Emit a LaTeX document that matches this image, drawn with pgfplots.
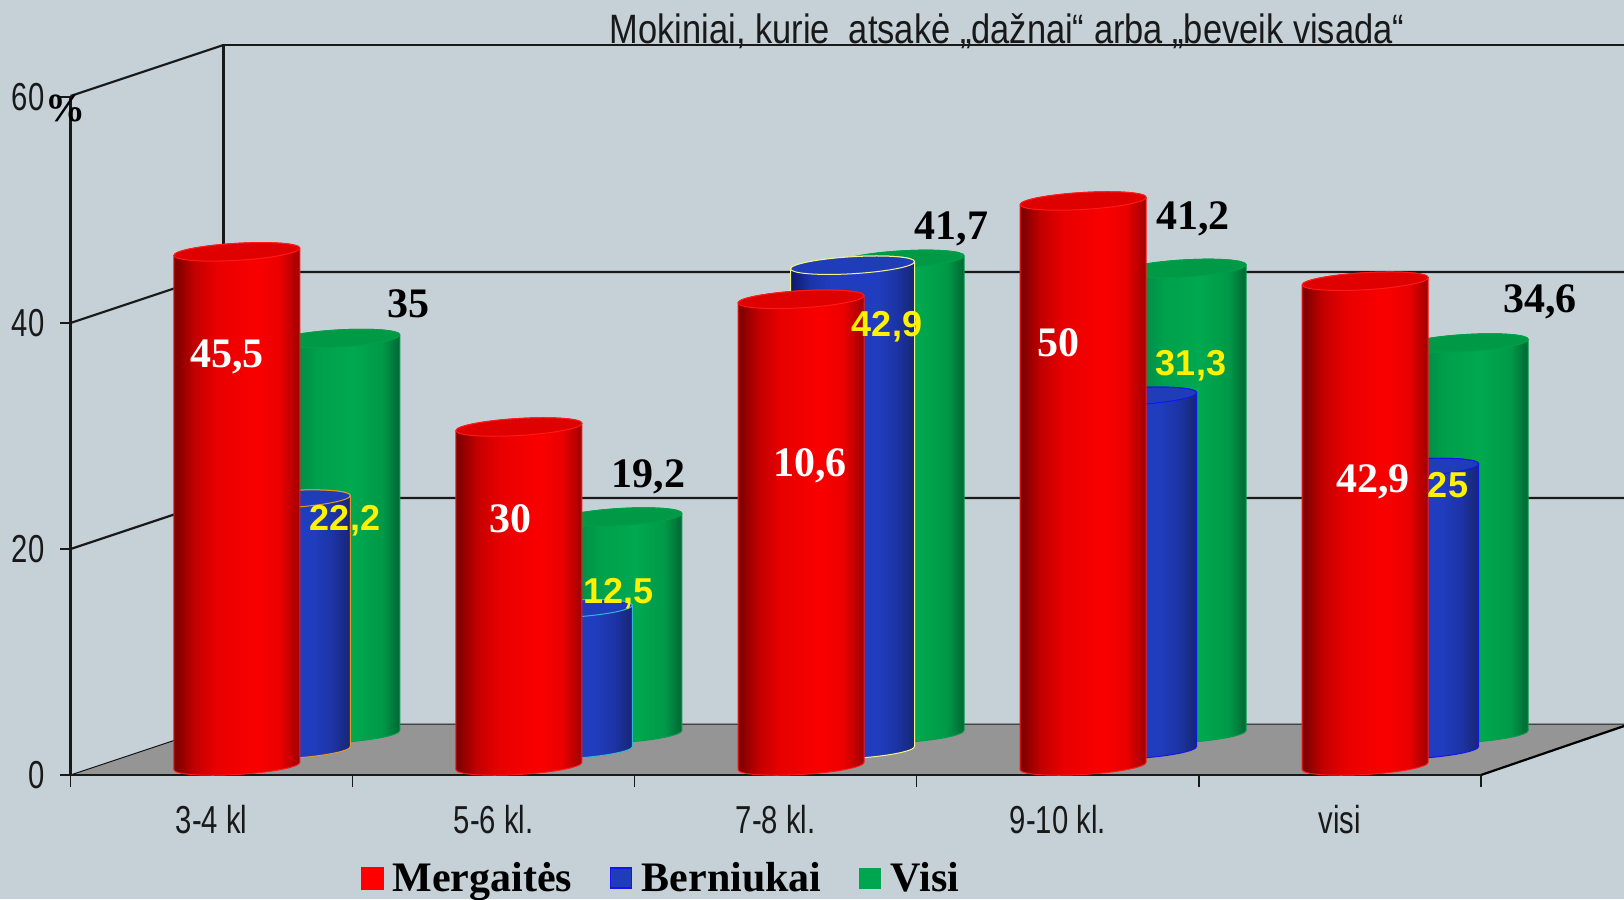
\documentclass[border=0pt]{standalone}
\usepackage{pgfplots}
\pgfplotsset{compat=1.18}
\usepackage{fontspec}
\setmainfont{Liberation Serif}
\newfontfamily\cond[FakeStretch=0.75]{Liberation Sans}
\newfontfamily\condt[FakeStretch=0.84]{Liberation Sans}
\newfontfamily\arialf{Liberation Sans}
\definecolor{bgc}{HTML}{C5D0D7}
\definecolor{floorc}{HTML}{959595}
\pgfdeclarehorizontalshading{redcyl}{100bp}{
 rgb(0bp)=(0.47,0,0); rgb(25bp)=(0.47,0,0);
 rgb(33bp)=(0.76,0,0); rgb(42bp)=(0.91,0,0);
 rgb(58bp)=(0.98,0,0); rgb(67bp)=(0.92,0,0);
 rgb(75bp)=(0.62,0,0); rgb(100bp)=(0.62,0,0)}
\pgfdeclarehorizontalshading{bluecyl}{100bp}{
 rgb(0bp)=(0.05,0.1,0.42); rgb(25bp)=(0.05,0.1,0.42);
 rgb(33bp)=(0.11,0.2,0.66); rgb(42bp)=(0.13,0.24,0.75);
 rgb(60bp)=(0.13,0.24,0.75); rgb(68bp)=(0.11,0.2,0.64);
 rgb(75bp)=(0.09,0.15,0.45); rgb(100bp)=(0.09,0.15,0.45)}
\pgfdeclarehorizontalshading{greencyl}{100bp}{
 rgb(0bp)=(0,0.36,0.18); rgb(25bp)=(0,0.36,0.18);
 rgb(33bp)=(0,0.55,0.27); rgb(42bp)=(0,0.63,0.3);
 rgb(56bp)=(0,0.66,0.31); rgb(68bp)=(0,0.6,0.28);
 rgb(75bp)=(0,0.4,0.2); rgb(100bp)=(0,0.4,0.2)}
\newcommand{\defcyl}[5]{% name, shading, top fill, rim, half width
 \pgfdeclareplotmark{#1}{%
  \pgftransformcm{1}{0.058}{0}{1}{\pgfpointorigin}%
  \shade[shading=#2,draw=#4,line width=1pt] (-#5pt,0pt) -- (-#5pt,{-\cylh*1pt})
    arc[start angle=180,end angle=360,x radius=#5pt,y radius=8.5pt]
    -- (#5pt,0pt) arc[start angle=0,end angle=180,x radius=#5pt,y radius=8.5pt] -- cycle;
  \filldraw[fill=#3,draw=#4,line width=1pt] (0pt,0pt) ellipse (#5pt and 8.5pt);}}
\definecolor{rimR}{HTML}{FF1A1A}
\definecolor{topR}{HTML}{DF0000}
\definecolor{topG}{HTML}{009A47}
\definecolor{rimG}{HTML}{00A04A}
\definecolor{topB}{HTML}{1F3DB8}
\definecolor{rimO}{HTML}{E8981A}
\definecolor{rimC}{HTML}{35B5D5}
\definecolor{rimY}{HTML}{F5F58A}
\definecolor{rimB}{HTML}{1414F0}
\definecolor{legG}{HTML}{00A64F}
\defcyl{cylred}{redcyl}{topR}{rimR}{63}
\defcyl{cylgreen}{greencyl}{topG}{rimG}{62}
\defcyl{cylbo}{bluecyl}{topB}{rimO}{62}
\defcyl{cylbc}{bluecyl}{topB}{rimC}{62}
\defcyl{cylby}{bluecyl}{topB}{rimY}{62}
\defcyl{cylbb}{bluecyl}{topB}{rimB}{62}
\pgfplotsset{
 pxaxis/.style={at={(0pt,0pt)},anchor=south west,scale only axis,width=1624pt,height=899pt,
   xmin=0,xmax=1624,ymin=0,ymax=899,y dir=reverse,hide axis},
 cylaxis/.style={anchor=south west,scale only axis,width=1410.5pt,height=678pt,
   xmin=-0.5,xmax=4.5,ymin=0,ymax=60,hide axis,clip=false},
 cyl/.style={scatter,only marks,mark=#1,visualization depends on={rawy*11.3 \as \cylh}},
}
\newcommand{\lab}[5]{\node[anchor=base,inner sep=0pt,text=#3,font=#4] at (axis cs:#1,#2) {#5};}
\newcommand{\serifB}{\fontsize{42}{42}\selectfont\bfseries}
\newcommand{\sansB}{\arialf\fontsize{36}{36}\selectfont\bfseries}
\begin{document}
\begin{tikzpicture}
% backdrop: walls and floor of the chart box
\begin{axis}[pxaxis]
\fill[bgc] (axis cs:0,0) rectangle (axis cs:1624,899);
\fill[floorc] (axis cs:70.5,775) -- (axis cs:223.5,724) -- (axis cs:1634,724) -- (axis cs:1481,775) -- cycle;
\draw[black!90,line width=1pt] (axis cs:70.5,775) -- (axis cs:223.5,724) -- (axis cs:1624,724);
\draw[black,line width=2.2pt] (axis cs:1481,775) -- (axis cs:1624,726);
\draw[black!90,line width=2.2pt] (axis cs:223.5,724) -- (axis cs:223.5,45) -- (axis cs:1624,45);
\draw[black!90,line width=2.2pt] (axis cs:70.5,96) -- (axis cs:223.5,45);
\draw[black!90,line width=2.2pt] (axis cs:70.5,323) -- (axis cs:223.5,272) -- (axis cs:1624,272);
\draw[black!90,line width=2.2pt] (axis cs:70.5,549) -- (axis cs:223.5,498) -- (axis cs:1624,498);
\end{axis}
% front axis with the scale and categories
\begin{axis}[at={(70.5pt,124pt)},anchor=south west,scale only axis,width=1410.5pt,height=678pt,
  xmin=-0.5,xmax=4.5,ymin=0,ymax=60,
  axis x line=bottom,axis y line=left,axis line style={-,black!90,line width=2.2pt},
  tick align=outside,major tick length=10.5pt,minor tick length=12pt,
  tick style={black!90,line width=1.4pt},
  xtick={0,1,2,3,4},xticklabels={3-4 kl,5-6 kl.,7-8 kl.,9-10 kl.,visi},
  minor xtick={-0.5,0.5,1.5,2.5,3.5,4.5},
  every major x tick/.append style={draw=none},
  ytick={0,20,40,60},
  /pgf/number format/assume math mode=true,
  ticklabel style={font=\cond\fontsize{39}{39}\selectfont,text=black!90},
  xticklabel style={yshift=-16.5pt},
  yticklabel style={xshift=-12pt},
]
\addplot[draw=none] coordinates {(0,0)};
\end{axis}
% series, each set one step further back
\begin{axis}[cylaxis,at={(196.8pt,165pt)}]
\addplot[cyl=cylgreen] coordinates {(0,35)(1,19.2)(2,42)(3,41.2)(4,34.6)};
\end{axis}
\begin{axis}[cylaxis,at={(147.3pt,149pt)}]
\addplot[cyl=cylbo] coordinates {(0,22.2)};
\addplot[cyl=cylbc] coordinates {(1,12.5)};
\addplot[cyl=cylby] coordinates {(2,42.9)};
\addplot[cyl=cylbb] coordinates {(3,31.3)};
\addplot[cyl=cylbb] coordinates {(4,25)};
\end{axis}
\begin{axis}[cylaxis,at={(95.8pt,133pt)}]
\addplot[cyl=cylred] coordinates {(0,45.5)(1,30)(2,41.3)(3,50)(4,42.9)};
\end{axis}
% texts and legend
\begin{axis}[pxaxis,clip=false,
  legend columns=3,
  legend style={at={(0.2223,0.0234)},anchor=west,draw=none,fill=none,inner sep=0pt,
    font=\serifB,/tikz/every even column/.append style={column sep=36pt}},
  legend cell align=left]
\addlegendimage{legend image code/.code={\fill[red] (0pt,-11pt) rectangle (22pt,11pt);\path[draw=none,fill=none] (0pt,0pt) -- (29pt,0pt);}}
\addlegendentry{Mergaitės}
\addlegendimage{legend image code/.code={\filldraw[fill=topB,draw=rimB,line width=1.5pt] (0pt,-10pt) rectangle (21pt,10pt);\path[draw=none,fill=none] (0pt,0pt) -- (29pt,0pt);}}
\addlegendentry{Berniukai}
\addlegendimage{legend image code/.code={\fill[legG] (0pt,-10pt) rectangle (21pt,10pt);\path[draw=none,fill=none] (0pt,0pt) -- (29pt,0pt);}}
\addlegendentry{Visi}
\node[font=\condt\fontsize{41}{41}\selectfont,text=black!90,anchor=base,inner sep=0pt] at (axis cs:1007,44) {Mokiniai, kurie\ \ atsakė „dažnai“ arba „beveik visada“};
\lab{227}{367}{white}{\serifB}{45,5}
\lab{408}{317}{black}{\serifB}{35}
\lab{345}{530}{yellow}{\sansB}{22,2}
\lab{510}{532}{white}{\serifB}{30}
\lab{648.5}{487}{black}{\serifB}{19,2}
\lab{618.5}{603}{yellow}{\sansB}{12,5}
\lab{810}{476}{white}{\serifB}{10,6}
\lab{887}{336}{yellow}{\sansB}{42,9}
\lab{951.5}{239}{black}{\serifB}{41,7}
\lab{1058.5}{356}{white}{\serifB}{50}
\lab{1193}{229}{black}{\serifB}{41,2}
\lab{1191}{375}{yellow}{\sansB}{31,3}
\lab{1373}{492}{white}{\serifB}{42,9}
\lab{1448}{497}{yellow}{\sansB}{25}
\lab{1540}{312}{black}{\serifB}{34,6}
\node[anchor=base,inner sep=0pt,font=\fontsize{40}{40}\selectfont\bfseries] at (axis cs:65,121) {\%};
\end{axis}
\pgfresetboundingbox
\useasboundingbox (0pt,0pt) rectangle (1624pt,899pt);
\end{tikzpicture}
\end{document}
